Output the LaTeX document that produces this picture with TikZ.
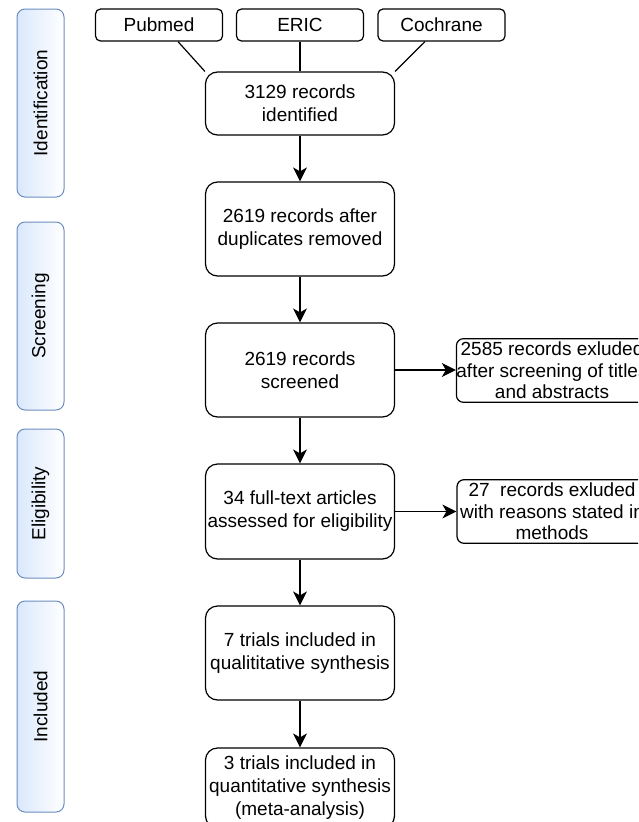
\documentclass[tikz,border=0pt]{standalone}
\usepackage{fontspec}
\setmainfont{Liberation Sans}
\usetikzlibrary{arrows.meta,calc}
\definecolor{lanefill}{HTML}{DAE8FC}
\definecolor{laneborder}{HTML}{6C8EBF}
\begin{document}
\begin{tikzpicture}[x=1pt,y=-1pt,
  every node/.style={font=\fontsize{19}{23}\selectfont},
  lane/.style={draw=laneborder, line width=1pt, rounded corners=8pt,
    left color=lanefill, right color=white, minimum width=47pt, inner sep=0pt},
  lanetext/.style={rotate=90, inner sep=0pt},
  box/.style={draw, line width=1.2pt, rounded corners=12pt, minimum width=189pt,
    align=center, inner sep=0pt},
  src/.style={draw, line width=1.2pt, rounded corners=5pt, minimum width=127pt,
    minimum height=32pt, inner sep=0pt},
  side/.style={draw, line width=1.2pt, rounded corners=7pt, minimum width=190pt,
    minimum height=63pt, align=center, inner xsep=0pt,
    font=\fontsize{19}{21.5}\selectfont},
  link/.style={line width=1.2pt},
  arr/.style={line width=1.2pt, -{Stealth[length=14pt,width=14pt,inset=4pt]}}
]
\useasboundingbox (0,0) rectangle (638,822);
\clip (0,0) rectangle (638,822);

% lanes
\node[lane, minimum height=188pt] (l1) at (40.5,103) {};
\node[lanetext] (t1) at (l1) {Identification};
\node[lane, minimum height=188pt] (l2) at (40.5,316) {};
\node[lanetext] (t2) at (l2) {Screening};
\node[lane, minimum height=149pt] (l3) at (40.5,503.5) {};
\node[lanetext] (t3) at (l3) {Eligibility};
\node[lane, minimum height=211pt] (l4) at (40.5,706.5) {};
\node[lanetext] (t4) at (l4) {Included};

% sources
\node[src] (pub) at (159,25) {Pubmed};
\node[src] (eric) at (300,25) {ERIC};
\node[src] (coch) at (441.5,25) {Cochrane};

% main column
\node[box, minimum height=63pt] (id) at (300,103.5) {3129 records\\identified};
\node[box, minimum height=94pt] (dup) at (300,229) {2619 records after\\duplicates removed};
\node[box, minimum height=94pt] (scr) at (300,370) {2619 records\\screened};
\node[box, minimum height=95pt] (full) at (300,511.5) {34 full-text articles\\assessed for eligibility};
\node[box, minimum height=94pt] (qual) at (300,653) {7 trials included in\\qualititative synthesis};
\node[box, minimum height=80pt] (quant) at (300,788) {3 trials included in\\quantitative synthesis\\(meta-analysis)};

% side boxes
\node[side] (exc1) at (552,370.5) {2585 records exluded\\after screening of titles\\and abstracts};
\node[side] (exc2) at (552,511.5) {27\ \ records exluded\\with reasons stated in\\methods};

% connectors
\draw[link] ($(pub.south)+(19,0)$) -- (id.north west);
\draw[link] (eric.south) -- (id.north);
\draw[link] ($(coch.south)+(-16.5,0)$) -- (id.north east);
\draw[arr] (id) -- (dup);
\draw[arr] (dup) -- (scr);
\draw[arr] (scr) -- (full);
\draw[arr] (full) -- (qual);
\draw[arr] (qual) -- (quant);
\draw[arr] (scr.east) -- (scr.east -| exc1.west);
\draw[arr] (full.east) -- (full.east -| exc2.west);
\end{tikzpicture}
\end{document}
